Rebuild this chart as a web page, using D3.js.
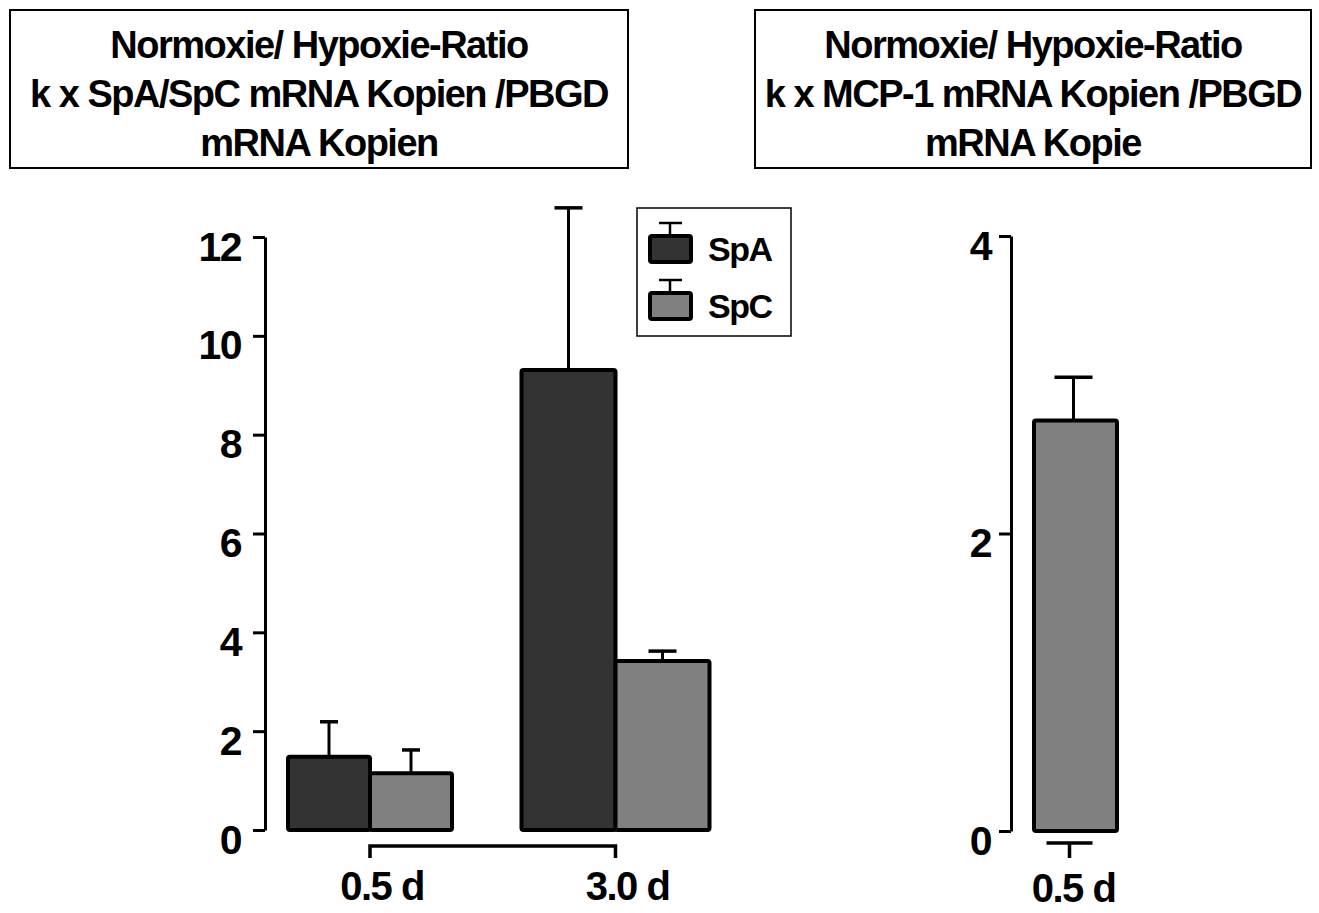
<!DOCTYPE html>
<html>
<head>
<meta charset="utf-8">
<script src="https://cdn.jsdelivr.net/npm/d3@7"></script>
<style>
  html, body { margin: 0; padding: 0; background: #fff; }
  svg { display: block; }
  text { font-family: "Liberation Sans", Arial, sans-serif; font-weight: bold; fill: #000; }
</style>
</head>
<body>
<svg id="chart" width="1319" height="913"></svg>
<script>
// ---- Data: surfactant protein ratios (left panel) ----
const groups = ["0.5 d", "3.0 d"];
const series = ["SpA", "SpC"];
const spaMean = [1.48, 9.31];
const spaErr  = [0.71, 3.28];
const spcMean = [1.15, 3.42];
const spcErr  = [0.47, 0.20];
const leftTicks = [0, 2, 4, 6, 8, 10, 12];

// ---- Data: MCP-1 ratio (right panel) ----
const mcpGroups = ["0.5 d"];
const mcpMean = [2.76];
const mcpErr  = [0.29];
const rightTicks = [0, 2, 4];

const leftTitle  = ["Normoxie/ Hypoxie-Ratio", "k x SpA/SpC mRNA Kopien /PBGD", "mRNA Kopien"];
const rightTitle = ["Normoxie/ Hypoxie-Ratio", "k x MCP-1 mRNA Kopien /PBGD", "mRNA Kopie"];

const fills = { SpA: "#333333", SpC: "#808080" };

const svg = d3.select("#chart");

// ---- Title boxes ----
function titleBox(x0, x1, lines) {
  svg.append("rect")
    .attr("x", x0).attr("y", 10).attr("width", x1 - x0).attr("height", 158)
    .attr("fill", "none").attr("stroke", "#000").attr("stroke-width", 2);
  svg.append("g").selectAll("text").data(lines).join("text")
    .attr("x", (x0 + x1) / 2)
    .attr("y", (d, i) => 58 + i * 49)
    .attr("text-anchor", "middle")
    .attr("font-size", 38)
    .attr("letter-spacing", -1.5)
    .text(d => d);
}
titleBox(10, 628, leftTitle);
titleBox(755, 1311, rightTitle);

// ---- Shared helpers ----
const tickLen = 12;
function yAxis(scale, ticks, x, labelX) {
  const g = svg.append("g").attr("transform", `translate(${x},0)`)
    .call(d3.axisLeft(scale).tickValues(ticks).tickFormat(d3.format("d"))
      .tickSize(tickLen).tickSizeOuter(0).tickPadding(x - labelX - tickLen));
  g.select(".domain").attr("stroke", "#000").attr("stroke-width", 3);
  g.selectAll(".tick line").attr("stroke", "#000").attr("stroke-width", 3);
  g.selectAll(".tick text")
    .attr("font-size", 41).attr("letter-spacing", -1.5)
    .attr("font-family", null)
    .attr("dy", 23)
    .attr("fill", "#000");
}

function errorBar(cx, yTop, yEnd, capW) {
  svg.append("line")
    .attr("x1", cx).attr("x2", cx).attr("y1", yTop).attr("y2", yEnd)
    .attr("stroke", "#000").attr("stroke-width", 3);
  svg.append("line")
    .attr("x1", cx - capW / 2).attr("x2", cx + capW / 2).attr("y1", yEnd).attr("y2", yEnd)
    .attr("stroke", "#000").attr("stroke-width", 3.5);
}

// ---- Left panel ----
const yL = d3.scaleLinear().domain([0, 12]).range([830, 237]);
const xL = d3.scalePoint().domain(groups).range([370, 615.5]);
const groupBarWidth = [82, 94];
const groupCapWidth = [18, 28];

const leftBars = [];
groups.forEach((g, i) => {
  leftBars.push({ group: g, key: "SpA", value: spaMean[i], err: spaErr[i], side: -1, w: groupBarWidth[i], cap: groupCapWidth[i] });
  leftBars.push({ group: g, key: "SpC", value: spcMean[i], err: spcErr[i], side: 1, w: groupBarWidth[i], cap: groupCapWidth[i] });
});

leftBars.forEach(d => {
  const cx = xL(d.group);
  const x0 = d.side < 0 ? cx - d.w : cx;
  errorBar(x0 + d.w / 2, yL(d.value), yL(d.value + d.err), d.cap);
});
svg.append("g").selectAll("rect").data(leftBars).join("rect")
  .attr("x", d => d.side < 0 ? xL(d.group) - d.w : xL(d.group))
  .attr("y", d => yL(d.value))
  .attr("width", d => d.w)
  .attr("height", d => yL(0) - yL(d.value))
  .attr("rx", 2)
  .attr("fill", d => fills[d.key])
  .attr("stroke", "#000").attr("stroke-width", 4);

yAxis(yL, leftTicks, 265, 241);

// x axis bracket between group positions
const axisY = 846;
svg.append("path")
  .attr("d", `M${xL(groups[0])},${axisY + 12}V${axisY}H${xL(groups[1])}V${axisY + 12}`)
  .attr("fill", "none").attr("stroke", "#000").attr("stroke-width", 3.5);
svg.append("g").selectAll("text").data(groups).join("text")
  .attr("x", d => xL(d) + 12)
  .attr("y", 900)
  .attr("text-anchor", "middle")
  .attr("font-size", 40).attr("letter-spacing", -1.5)
  .text(d => d);

// legend
const legend = svg.append("g");
legend.append("rect")
  .attr("x", 637).attr("y", 208).attr("width", 154).attr("height", 128)
  .attr("fill", "#fff").attr("stroke", "#000").attr("stroke-width", 1.5);
series.forEach((s, i) => {
  const top = 236 + i * 57;
  legend.append("line").attr("x1", 670).attr("x2", 670).attr("y1", top).attr("y2", top - 13)
    .attr("stroke", "#000").attr("stroke-width", 2.5);
  legend.append("line").attr("x1", 659).attr("x2", 682).attr("y1", top - 13).attr("y2", top - 13)
    .attr("stroke", "#000").attr("stroke-width", 2.5);
  legend.append("rect")
    .attr("x", 650).attr("y", top).attr("width", 41).attr("height", 26).attr("rx", 2)
    .attr("fill", fills[s]).attr("stroke", "#000").attr("stroke-width", 4);
  legend.append("text")
    .attr("x", 708).attr("y", top + 25)
    .attr("font-size", 34).attr("letter-spacing", -1.5)
    .text(s);
});

// ---- Right panel ----
const yR = d3.scaleLinear().domain([0, 4]).range([831, 236]);
const xR = d3.scaleBand().domain(mcpGroups).range([1034, 1117]).padding(0);

mcpGroups.forEach((g, i) => {
  errorBar(xR(g) + xR.bandwidth() / 2 - 2, yR(mcpMean[i]), yR(mcpMean[i] + mcpErr[i]), 38);
});
svg.append("g").selectAll("rect").data(mcpGroups).join("rect")
  .attr("x", d => xR(d))
  .attr("y", (d, i) => yR(mcpMean[i]))
  .attr("width", xR.bandwidth())
  .attr("height", (d, i) => yR(0) - yR(mcpMean[i]))
  .attr("rx", 2)
  .attr("fill", fills.SpC)
  .attr("stroke", "#000").attr("stroke-width", 4);

yAxis(yR, rightTicks, 1011, 991);

mcpGroups.forEach(g => {
  const cx = xR(g) + xR.bandwidth() / 2 - 6;
  svg.append("path")
    .attr("d", `M${cx - 23},843H${cx + 23}M${cx},843V858`)
    .attr("fill", "none").attr("stroke", "#000").attr("stroke-width", 3.5);
  svg.append("text")
    .attr("x", cx + 4).attr("y", 902)
    .attr("text-anchor", "middle")
    .attr("font-size", 40).attr("letter-spacing", -1.5)
    .text(g);
});
</script>
</body>
</html>
